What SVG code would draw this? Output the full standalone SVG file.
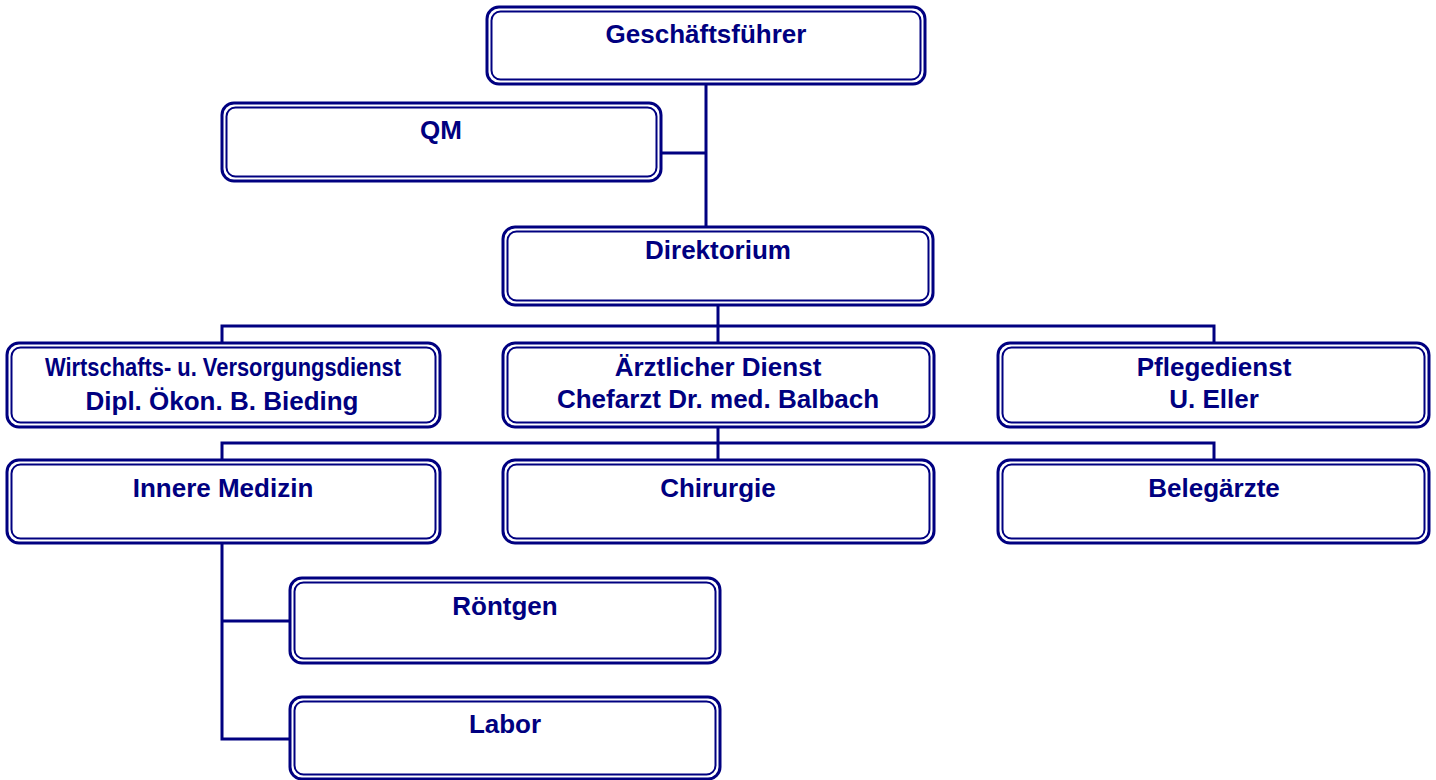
<svg xmlns="http://www.w3.org/2000/svg" width="1436" height="780" viewBox="0 0 1436 780">
<style>
.o{fill:#fff;stroke:#000080;stroke-width:3}
.i{fill:none;stroke:#000080;stroke-width:2}
.t{font-family:"Liberation Sans",Arial,sans-serif;font-weight:bold;font-size:26px;fill:#000080;text-anchor:middle}
.c{fill:none;stroke:#000080;stroke-width:3}
</style>
<g id="connectors">
<path class="c" d="M706 84V227M661 153H706"/>
<path class="c" d="M718 305V326M222 343V326H1214V343M718 326V343"/>
<path class="c" d="M718 427V443M222 460V443H1214V460M718 443V460"/>
<path class="c" d="M222 543V739H290M222 621H290"/>
</g>
<g id="gf"><rect class="o" x="487" y="7" width="438" height="77" rx="12"/><rect class="i" x="491.5" y="11.5" width="429" height="68" rx="9"/><text class="t" x="706" y="43">Geschäftsführer</text></g>
<g id="qm"><rect class="o" x="222" y="103" width="439" height="78" rx="12"/><rect class="i" x="226.5" y="107.5" width="430" height="69" rx="9"/><text class="t" x="441" y="139">QM</text></g>
<g id="dir"><rect class="o" x="503" y="227" width="430" height="78" rx="12"/><rect class="i" x="507.5" y="231.5" width="421" height="69" rx="9"/><text class="t" x="718" y="259">Direktorium</text></g>
<g id="wv"><rect class="o" x="7" y="343" width="433" height="84" rx="12"/><rect class="i" x="11.5" y="347.5" width="424" height="75" rx="9"/><text class="t" x="223" y="376" font-size="24" textLength="356" lengthAdjust="spacingAndGlyphs">Wirtschafts- u. Versorgungsdienst</text><text class="t" x="222" y="410">Dipl. Ökon. B. Bieding</text></g>
<g id="ad"><rect class="o" x="503" y="343" width="431" height="84" rx="12"/><rect class="i" x="507.5" y="347.5" width="422" height="75" rx="9"/><text class="t" x="718" y="376">Ärztlicher Dienst</text><text class="t" x="718" y="408">Chefarzt Dr. med. Balbach</text></g>
<g id="pd"><rect class="o" x="998" y="343" width="431" height="84" rx="12"/><rect class="i" x="1002.5" y="347.5" width="422" height="75" rx="9"/><text class="t" x="1214" y="376">Pflegedienst</text><text class="t" x="1214" y="408">U. Eller</text></g>
<g id="im"><rect class="o" x="7" y="460" width="433" height="83" rx="12"/><rect class="i" x="11.5" y="464.5" width="424" height="74" rx="9"/><text class="t" x="223" y="497">Innere Medizin</text></g>
<g id="ch"><rect class="o" x="503" y="460" width="431" height="83" rx="12"/><rect class="i" x="507.5" y="464.5" width="422" height="74" rx="9"/><text class="t" x="718" y="497">Chirurgie</text></g>
<g id="bg"><rect class="o" x="998" y="460" width="431" height="83" rx="12"/><rect class="i" x="1002.5" y="464.5" width="422" height="74" rx="9"/><text class="t" x="1214" y="497">Belegärzte</text></g>
<g id="rt"><rect class="o" x="290" y="578" width="430" height="85" rx="12"/><rect class="i" x="294.5" y="582.5" width="421" height="76" rx="9"/><text class="t" x="505" y="615">Röntgen</text></g>
<g id="lb"><rect class="o" x="290" y="697" width="430" height="82" rx="12"/><rect class="i" x="294.5" y="701.5" width="421" height="73" rx="9"/><text class="t" x="505" y="733">Labor</text></g>
</svg>
